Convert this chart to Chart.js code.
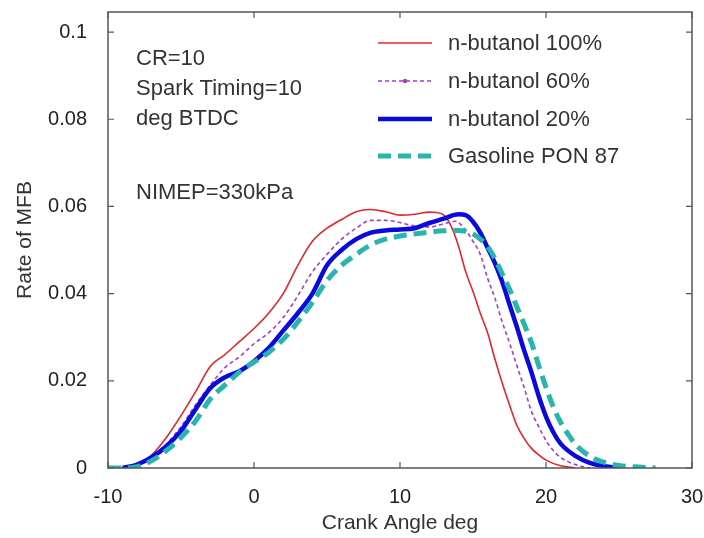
<!DOCTYPE html>
<html>
<head>
<meta charset="utf-8">
<script src="https://cdn.jsdelivr.net/npm/chart.js@4.4.1/dist/chart.umd.min.js"></script>
<style>
html, body { margin: 0; padding: 0; background: #fff; }
#wrap { width: 704px; height: 538px; }
</style>
</head>
<body>
<div id="wrap"><canvas id="chart" width="704" height="538"></canvas></div>
<script>
// Crank angle (deg) / rate of MFB, one pair of arrays per fuel
const butanol100X = [-10, -9, -8, -7, -6, -5, -4, -3, -2, -1, 0, 1, 2, 3, 4, 5, 6, 7, 8, 9, 10, 11, 12, 12.5, 13, 13.5, 14, 14.5, 15, 15.5, 16, 16.5, 17, 17.5, 18, 18.5, 19, 19.5, 20, 21, 22];
const butanol100Y = [0, 0, 0.0006, 0.003, 0.007, 0.012, 0.0175, 0.0233, 0.026, 0.029, 0.032, 0.0355, 0.04, 0.0465, 0.052, 0.055, 0.057, 0.0588, 0.0593, 0.0588, 0.058, 0.0582, 0.0587, 0.0586, 0.058, 0.0555, 0.051, 0.045, 0.0405, 0.0355, 0.031, 0.025, 0.0195, 0.0145, 0.0098, 0.0068, 0.0045, 0.003, 0.0018, 0.0005, 0];

const butanol60X = [-9, -8, -7, -6, -5, -4, -3, -2, -1, 0, 1, 2, 3, 4, 5, 6, 7, 8, 9, 10, 11, 12, 13, 13.8, 14.5, 15, 15.5, 16, 16.5, 17, 17.5, 18, 18.5, 19, 19.5, 20, 20.5, 21, 22, 23];
const butanol60Y = [0, 0.0005, 0.0025, 0.0055, 0.0095, 0.0145, 0.019, 0.023, 0.0255, 0.0285, 0.031, 0.0345, 0.0395, 0.045, 0.049, 0.0525, 0.055, 0.0568, 0.0568, 0.0563, 0.0555, 0.0553, 0.056, 0.0566, 0.0545, 0.052, 0.049, 0.0435, 0.039, 0.0335, 0.0287, 0.0235, 0.0185, 0.013, 0.0095, 0.0063, 0.004, 0.0024, 0.0008, 0];

const butanol20X = [-9, -8, -7, -6, -5, -4, -3, -2, -1, 0, 1, 2, 3, 4, 5, 6, 7, 8, 9, 10, 11, 12, 13, 14, 14.5, 15, 15.5, 16, 16.5, 17, 17.5, 18, 18.5, 19, 19.5, 20, 20.5, 21, 22, 23, 24, 25];
const butanol20Y = [0, 0.0008, 0.0025, 0.005, 0.0085, 0.0135, 0.0183, 0.0208, 0.0222, 0.0245, 0.0275, 0.0315, 0.0355, 0.04, 0.0465, 0.05, 0.0525, 0.054, 0.0545, 0.0547, 0.055, 0.0562, 0.0572, 0.0582, 0.058, 0.0565, 0.054, 0.0505, 0.047, 0.0427, 0.0375, 0.0324, 0.027, 0.022, 0.0165, 0.0118, 0.0082, 0.0056, 0.0028, 0.0012, 0.0004, 0];

const gasolineX = [-10, -9, -8, -7, -6, -5, -4, -3, -2, -1, 0, 1, 2, 3, 4, 5, 6, 7, 8, 9, 10, 11, 12, 13, 14, 14.5, 15, 15.5, 16, 16.5, 17, 17.5, 18, 18.5, 19, 19.5, 20, 20.5, 21, 21.5, 22, 23, 24, 25, 26, 27.5];
const gasolineY = [0, 0, 0.0003, 0.0017, 0.004, 0.007, 0.0108, 0.0158, 0.019, 0.022, 0.0243, 0.0265, 0.0295, 0.0335, 0.038, 0.043, 0.0465, 0.049, 0.0512, 0.0525, 0.0532, 0.0537, 0.0541, 0.0544, 0.0545, 0.0543, 0.0537, 0.0525, 0.0508, 0.048, 0.0445, 0.041, 0.037, 0.033, 0.0288, 0.0235, 0.0185, 0.014, 0.0105, 0.0078, 0.0055, 0.0027, 0.0013, 0.0006, 0.0003, 0];

const seriesLabels = ['n-butanol 100%', 'n-butanol 60%', 'n-butanol 20%', 'Gasoline PON 87'];
const notes = ['CR=10', 'Spark Timing=10', 'deg BTDC', 'NIMEP=330kPa'];

const colors = {
    red: '#e3262b',
    magenta: '#a63cc8',
    blue: '#0a0adc',
    cyan: '#27b5ae',
    axis: '#555',
    text: '#333'
};

const FONT = "'Liberation Sans', Arial, sans-serif";

function toPoints(xs, ys) {
    return xs.map((x, i) => ({ x: x, y: ys[i] }));
}

const styles = [
    { color: colors.red, width: 1.6, dash: [] },
    { color: colors.magenta, width: 1.6, dash: [4, 3] },
    { color: colors.blue, width: 4.5, dash: [] },
    { color: colors.cyan, width: 5, dash: [13, 7] }
];

const datasets = [
    toPoints(butanol100X, butanol100Y),
    toPoints(butanol60X, butanol60Y),
    toPoints(butanol20X, butanol20Y),
    toPoints(gasolineX, gasolineY)
].map((pts, i) => ({
    label: seriesLabels[i],
    data: pts,
    borderColor: styles[i].color,
    borderWidth: styles[i].width,
    borderDash: styles[i].dash,
    pointRadius: 0,
    fill: false,
    tension: 0.4,
    cubicInterpolationMode: 'monotone',
    order: 3 - i
}));

// Box, inward ticks, notes and legend drawn on top of the plot
const decorPlugin = {
    id: 'decor',
    afterDatasetsDraw(chart) {
        const { ctx, chartArea: a, scales } = chart;
        const tl = 6;
        ctx.save();
        ctx.strokeStyle = colors.axis;
        ctx.lineWidth = 1.5;
        ctx.setLineDash([]);
        ctx.strokeRect(a.left, a.top, a.right - a.left, a.bottom - a.top);

        ctx.lineWidth = 1.2;
        ctx.beginPath();
        scales.x.ticks.forEach(t => {
            const px = scales.x.getPixelForValue(t.value);
            ctx.moveTo(px, a.bottom); ctx.lineTo(px, a.bottom - tl);
            ctx.moveTo(px, a.top); ctx.lineTo(px, a.top + tl);
        });
        scales.y.ticks.forEach(t => {
            const py = scales.y.getPixelForValue(t.value);
            ctx.moveTo(a.left, py); ctx.lineTo(a.left + tl, py);
            ctx.moveTo(a.right, py); ctx.lineTo(a.right - tl, py);
        });
        ctx.stroke();

        // notes, top left
        ctx.fillStyle = colors.text;
        ctx.font = '22px ' + FONT;
        ctx.textAlign = 'left';
        ctx.textBaseline = 'alphabetic';
        const noteY = [53, 83, 113, 187];
        notes.forEach((n, i) => ctx.fillText(n, a.left + 28, a.top + noteY[i]));

        // legend, top right
        const rowY = [31, 69, 107, 144];
        const x0 = a.left + 270, x1 = a.left + 324;
        ctx.textBaseline = 'middle';
        seriesLabels.forEach((lbl, i) => {
            const y = a.top + rowY[i];
            ctx.strokeStyle = styles[i].color;
            ctx.lineWidth = styles[i].width;
            ctx.setLineDash(styles[i].dash);
            ctx.beginPath();
            ctx.moveTo(x0, y);
            ctx.lineTo(x1, y);
            ctx.stroke();
            if (i === 1) {
                ctx.setLineDash([]);
                ctx.fillStyle = styles[i].color;
                ctx.beginPath();
                ctx.arc((x0 + x1) / 2, y, 2.2, 0, Math.PI * 2);
                ctx.fill();
            }
            ctx.fillStyle = colors.text;
            ctx.fillText(lbl, a.left + 340, y + 1);
        });
        ctx.restore();
    }
};

new Chart(document.getElementById('chart'), {
    type: 'line',
    data: { datasets: datasets },
    options: {
        responsive: false,
        animation: false,
        layout: { padding: { top: 12, right: 12, left: 0, bottom: 0 } },
        plugins: {
            legend: { display: false },
            tooltip: { enabled: false }
        },
        scales: {
            x: {
                type: 'linear',
                min: -10,
                max: 30,
                grid: { display: false },
                border: { display: false },
                ticks: {
                    stepSize: 10,
                    padding: 9,
                    color: '#222',
                    font: { family: FONT, size: 20 }
                },
                title: {
                    display: true,
                    text: 'Crank Angle deg',
                    color: colors.text,
                    font: { family: FONT, size: 21 },
                    padding: { top: 0, bottom: 2 }
                },
                afterFit(scale) {
                    scale.height = 70;
                    scale.paddingLeft = 0;
                    scale.paddingRight = 0;
                }
            },
            y: {
                type: 'linear',
                min: 0,
                max: 0.1046,
                grid: { display: false },
                border: { display: false },
                ticks: {
                    stepSize: 0.02,
                    includeBounds: false,
                    padding: 13,
                    color: '#222',
                    font: { family: FONT, size: 20 },
                    callback: v => String(+v.toFixed(3))
                },
                title: {
                    display: true,
                    text: 'Rate of MFB',
                    color: colors.text,
                    font: { family: FONT, size: 21 },
                    padding: { top: 13, bottom: 0 }
                },
                afterFit(scale) {
                    scale.width = 108;
                    scale.paddingTop = 0;
                    scale.paddingBottom = 0;
                }
            }
        }
    },
    plugins: [decorPlugin]
});
</script>
</body>
</html>
